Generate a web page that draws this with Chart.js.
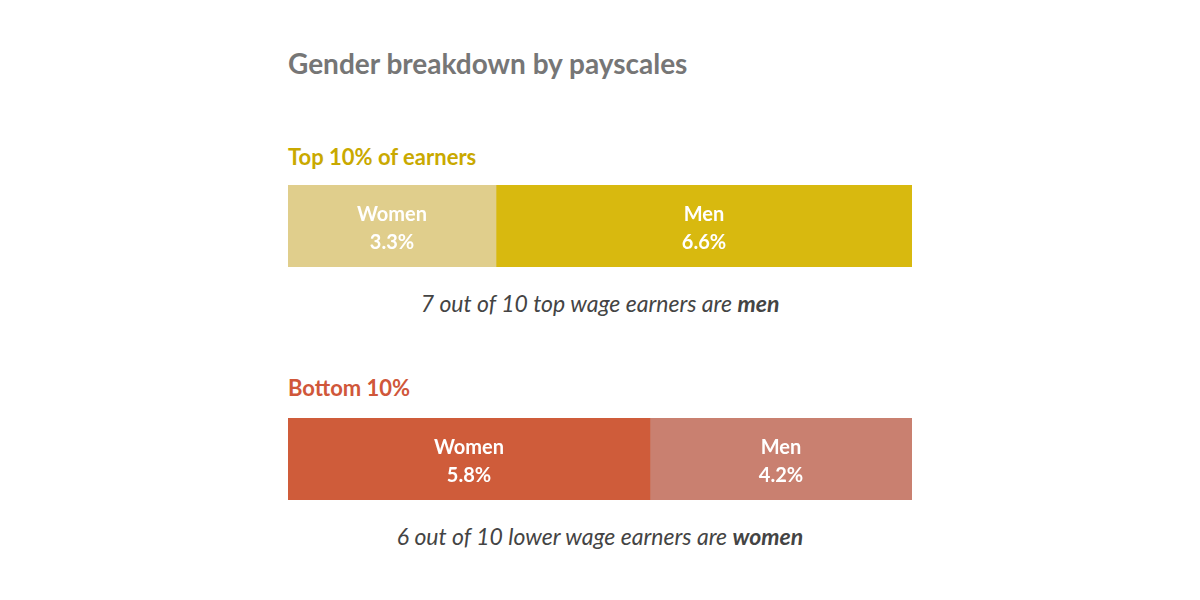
<!DOCTYPE html>
<html><head><meta charset="utf-8">
<script src="https://cdn.jsdelivr.net/npm/chart.js@4/dist/chart.umd.min.js"></script>
<style>
body{margin:0;width:1200px;height:600px;background:#fff;font-family:Lato,"Open Sans",sans-serif;position:relative;overflow:hidden}
.t{position:absolute;white-space:nowrap}
.box{position:absolute;left:288px;width:624px;height:82px}
</style></head><body>
<div class="t" style="left:288px;top:46px;font-size:28px;font-weight:700;color:#767676">Gender breakdown by payscales</div>
<div class="t" style="left:288px;top:143px;font-size:22px;font-weight:700;color:#c9a900">Top 10% of earners</div>
<div class="box" style="top:185px"><canvas id="c1"></canvas></div>
<div class="t" style="left:0;width:1200px;text-align:center;top:289px;font-size:23px;font-style:italic;color:#444">7 out of 10 top wage earners are <b>men</b></div>
<div class="t" style="left:288px;top:374px;font-size:22px;font-weight:700;color:#d0573a">Bottom 10%</div>
<div class="box" style="top:418px"><canvas id="c2"></canvas></div>
<div class="t" style="left:0;width:1200px;text-align:center;top:522px;font-size:23px;font-style:italic;color:#444">6 out of 10 lower wage earners are <b>women</b></div>
<script>
const seriesNames=["Women","Men"];
const topValues=[3.3,6.6];
const bottomValues=[5.8,4.2];
const topColors=["#e0ce8c","#d8b90f"];
const bottomColors=["#cf5c3a","#c98070"];
const labelPlugin={id:"lbl",afterDatasetsDraw(ch){const c=ch.ctx;c.save();c.fillStyle="#fff";c.textAlign="center";c.font="700 20px Lato, sans-serif";
ch.data.datasets.forEach((ds,i)=>{const el=ch.getDatasetMeta(i).data[0];const x=(el.base+el.x)/2;c.fillText(ds.label,x,el.y-5);c.fillText(ds.data[0].toFixed(1)+"%",x,el.y+23);});c.restore();}};
function make(id,vals,cols){
new Chart(document.getElementById(id),{type:"bar",plugins:[labelPlugin],
data:{labels:[""],datasets:vals.map((v,i)=>({label:seriesNames[i],data:[v],backgroundColor:cols[i],barPercentage:1,categoryPercentage:1}))},
options:{indexAxis:"y",responsive:true,maintainAspectRatio:false,animation:false,layout:{padding:0},
plugins:{legend:{display:false},tooltip:{enabled:false}},
scales:{x:{stacked:true,min:0,max:vals.reduce((a,b)=>a+b,0),display:false},y:{stacked:true,display:false}}}});}
make("c1",topValues,topColors);
make("c2",bottomValues,bottomColors);
</script></body></html>
